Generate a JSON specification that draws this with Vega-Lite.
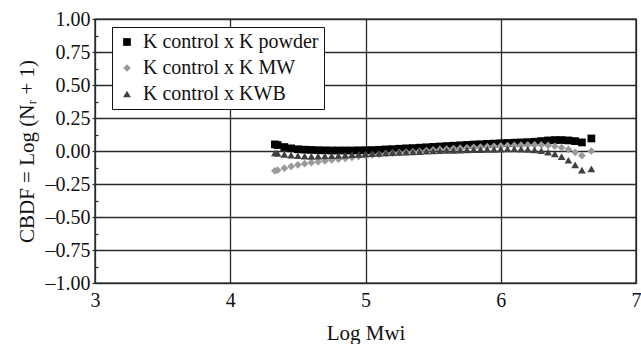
{
  "$schema": "https://vega.github.io/schema/vega-lite/v6.json",
  "width": 541,
  "height": 264,
  "autosize": {"type": "none"},
  "padding": {"left": 95, "top": 19, "right": 5, "bottom": 61},
  "background": "white",
  "config": {
    "font": "Liberation Serif",
    "view": {"stroke": "#111", "strokeWidth": 1.4},
    "legend": {"strokeColor": "#111", "fillColor": "#fff", "padding": 5, "labelLimit": 0},
    "axis": {"domain": false, "gridColor": "#2a2a2a", "gridWidth": 1.3, "gridOpacity": 1, "labelFont": "Liberation Serif", "titleFont": "Liberation Serif", "labelColor": "#111", "titleColor": "#111", "titleFontWeight": "normal", "labelFontSize": 20, "titleFontSize": 21, "tickColor": "#2a2a2a", "tickWidth": 1.2}
  },
  "data": {"values": [
    {"x": 4.33, "y": 0.050, "s": "K control x K powder"},
    {"x": 4.35, "y": 0.045, "s": "K control x K powder"},
    {"x": 4.40, "y": 0.030, "s": "K control x K powder"},
    {"x": 4.45, "y": 0.020, "s": "K control x K powder"},
    {"x": 4.50, "y": 0.013, "s": "K control x K powder"},
    {"x": 4.55, "y": 0.010, "s": "K control x K powder"},
    {"x": 4.60, "y": 0.008, "s": "K control x K powder"},
    {"x": 4.65, "y": 0.006, "s": "K control x K powder"},
    {"x": 4.70, "y": 0.005, "s": "K control x K powder"},
    {"x": 4.75, "y": 0.004, "s": "K control x K powder"},
    {"x": 4.80, "y": 0.004, "s": "K control x K powder"},
    {"x": 4.85, "y": 0.004, "s": "K control x K powder"},
    {"x": 4.90, "y": 0.004, "s": "K control x K powder"},
    {"x": 4.95, "y": 0.005, "s": "K control x K powder"},
    {"x": 5.00, "y": 0.006, "s": "K control x K powder"},
    {"x": 5.05, "y": 0.007, "s": "K control x K powder"},
    {"x": 5.10, "y": 0.009, "s": "K control x K powder"},
    {"x": 5.15, "y": 0.012, "s": "K control x K powder"},
    {"x": 5.20, "y": 0.014, "s": "K control x K powder"},
    {"x": 5.25, "y": 0.017, "s": "K control x K powder"},
    {"x": 5.30, "y": 0.020, "s": "K control x K powder"},
    {"x": 5.35, "y": 0.022, "s": "K control x K powder"},
    {"x": 5.40, "y": 0.025, "s": "K control x K powder"},
    {"x": 5.45, "y": 0.028, "s": "K control x K powder"},
    {"x": 5.50, "y": 0.031, "s": "K control x K powder"},
    {"x": 5.55, "y": 0.034, "s": "K control x K powder"},
    {"x": 5.60, "y": 0.037, "s": "K control x K powder"},
    {"x": 5.65, "y": 0.040, "s": "K control x K powder"},
    {"x": 5.70, "y": 0.043, "s": "K control x K powder"},
    {"x": 5.75, "y": 0.046, "s": "K control x K powder"},
    {"x": 5.80, "y": 0.049, "s": "K control x K powder"},
    {"x": 5.85, "y": 0.051, "s": "K control x K powder"},
    {"x": 5.90, "y": 0.054, "s": "K control x K powder"},
    {"x": 5.95, "y": 0.056, "s": "K control x K powder"},
    {"x": 6.00, "y": 0.059, "s": "K control x K powder"},
    {"x": 6.05, "y": 0.061, "s": "K control x K powder"},
    {"x": 6.10, "y": 0.063, "s": "K control x K powder"},
    {"x": 6.15, "y": 0.065, "s": "K control x K powder"},
    {"x": 6.20, "y": 0.067, "s": "K control x K powder"},
    {"x": 6.25, "y": 0.070, "s": "K control x K powder"},
    {"x": 6.30, "y": 0.075, "s": "K control x K powder"},
    {"x": 6.35, "y": 0.080, "s": "K control x K powder"},
    {"x": 6.40, "y": 0.083, "s": "K control x K powder"},
    {"x": 6.45, "y": 0.083, "s": "K control x K powder"},
    {"x": 6.50, "y": 0.080, "s": "K control x K powder"},
    {"x": 6.55, "y": 0.075, "s": "K control x K powder"},
    {"x": 6.60, "y": 0.065, "s": "K control x K powder"},
    {"x": 6.67, "y": 0.095, "s": "K control x K powder"},
    {"x": 4.33, "y": -0.150, "s": "K control x K MW"},
    {"x": 4.35, "y": -0.145, "s": "K control x K MW"},
    {"x": 4.40, "y": -0.130, "s": "K control x K MW"},
    {"x": 4.45, "y": -0.117, "s": "K control x K MW"},
    {"x": 4.50, "y": -0.105, "s": "K control x K MW"},
    {"x": 4.55, "y": -0.096, "s": "K control x K MW"},
    {"x": 4.60, "y": -0.088, "s": "K control x K MW"},
    {"x": 4.65, "y": -0.081, "s": "K control x K MW"},
    {"x": 4.70, "y": -0.075, "s": "K control x K MW"},
    {"x": 4.75, "y": -0.068, "s": "K control x K MW"},
    {"x": 4.80, "y": -0.062, "s": "K control x K MW"},
    {"x": 4.85, "y": -0.055, "s": "K control x K MW"},
    {"x": 4.90, "y": -0.048, "s": "K control x K MW"},
    {"x": 4.95, "y": -0.041, "s": "K control x K MW"},
    {"x": 5.00, "y": -0.035, "s": "K control x K MW"},
    {"x": 5.05, "y": -0.030, "s": "K control x K MW"},
    {"x": 5.10, "y": -0.025, "s": "K control x K MW"},
    {"x": 5.15, "y": -0.020, "s": "K control x K MW"},
    {"x": 5.20, "y": -0.016, "s": "K control x K MW"},
    {"x": 5.25, "y": -0.012, "s": "K control x K MW"},
    {"x": 5.30, "y": -0.008, "s": "K control x K MW"},
    {"x": 5.35, "y": -0.005, "s": "K control x K MW"},
    {"x": 5.40, "y": -0.002, "s": "K control x K MW"},
    {"x": 5.45, "y": 0.003, "s": "K control x K MW"},
    {"x": 5.50, "y": 0.008, "s": "K control x K MW"},
    {"x": 5.55, "y": 0.012, "s": "K control x K MW"},
    {"x": 5.60, "y": 0.015, "s": "K control x K MW"},
    {"x": 5.65, "y": 0.018, "s": "K control x K MW"},
    {"x": 5.70, "y": 0.021, "s": "K control x K MW"},
    {"x": 5.75, "y": 0.024, "s": "K control x K MW"},
    {"x": 5.80, "y": 0.027, "s": "K control x K MW"},
    {"x": 5.85, "y": 0.030, "s": "K control x K MW"},
    {"x": 5.90, "y": 0.033, "s": "K control x K MW"},
    {"x": 5.95, "y": 0.036, "s": "K control x K MW"},
    {"x": 6.00, "y": 0.038, "s": "K control x K MW"},
    {"x": 6.05, "y": 0.040, "s": "K control x K MW"},
    {"x": 6.10, "y": 0.042, "s": "K control x K MW"},
    {"x": 6.15, "y": 0.044, "s": "K control x K MW"},
    {"x": 6.20, "y": 0.046, "s": "K control x K MW"},
    {"x": 6.25, "y": 0.047, "s": "K control x K MW"},
    {"x": 6.30, "y": 0.046, "s": "K control x K MW"},
    {"x": 6.35, "y": 0.042, "s": "K control x K MW"},
    {"x": 6.40, "y": 0.036, "s": "K control x K MW"},
    {"x": 6.45, "y": 0.026, "s": "K control x K MW"},
    {"x": 6.50, "y": 0.012, "s": "K control x K MW"},
    {"x": 6.55, "y": -0.010, "s": "K control x K MW"},
    {"x": 6.60, "y": -0.035, "s": "K control x K MW"},
    {"x": 6.67, "y": 0.000, "s": "K control x K MW"},
    {"x": 4.33, "y": -0.015, "s": "K control x KWB"},
    {"x": 4.35, "y": -0.018, "s": "K control x KWB"},
    {"x": 4.40, "y": -0.025, "s": "K control x KWB"},
    {"x": 4.45, "y": -0.031, "s": "K control x KWB"},
    {"x": 4.50, "y": -0.036, "s": "K control x KWB"},
    {"x": 4.55, "y": -0.039, "s": "K control x KWB"},
    {"x": 4.60, "y": -0.040, "s": "K control x KWB"},
    {"x": 4.65, "y": -0.039, "s": "K control x KWB"},
    {"x": 4.70, "y": -0.038, "s": "K control x KWB"},
    {"x": 4.75, "y": -0.036, "s": "K control x KWB"},
    {"x": 4.80, "y": -0.034, "s": "K control x KWB"},
    {"x": 4.85, "y": -0.031, "s": "K control x KWB"},
    {"x": 4.90, "y": -0.028, "s": "K control x KWB"},
    {"x": 4.95, "y": -0.025, "s": "K control x KWB"},
    {"x": 5.00, "y": -0.023, "s": "K control x KWB"},
    {"x": 5.05, "y": -0.020, "s": "K control x KWB"},
    {"x": 5.10, "y": -0.018, "s": "K control x KWB"},
    {"x": 5.15, "y": -0.015, "s": "K control x KWB"},
    {"x": 5.20, "y": -0.013, "s": "K control x KWB"},
    {"x": 5.25, "y": -0.010, "s": "K control x KWB"},
    {"x": 5.30, "y": -0.008, "s": "K control x KWB"},
    {"x": 5.35, "y": -0.006, "s": "K control x KWB"},
    {"x": 5.40, "y": -0.004, "s": "K control x KWB"},
    {"x": 5.45, "y": -0.002, "s": "K control x KWB"},
    {"x": 5.50, "y": 0.000, "s": "K control x KWB"},
    {"x": 5.55, "y": 0.002, "s": "K control x KWB"},
    {"x": 5.60, "y": 0.004, "s": "K control x KWB"},
    {"x": 5.65, "y": 0.005, "s": "K control x KWB"},
    {"x": 5.70, "y": 0.007, "s": "K control x KWB"},
    {"x": 5.75, "y": 0.008, "s": "K control x KWB"},
    {"x": 5.80, "y": 0.010, "s": "K control x KWB"},
    {"x": 5.85, "y": 0.011, "s": "K control x KWB"},
    {"x": 5.90, "y": 0.012, "s": "K control x KWB"},
    {"x": 5.95, "y": 0.013, "s": "K control x KWB"},
    {"x": 6.00, "y": 0.014, "s": "K control x KWB"},
    {"x": 6.05, "y": 0.015, "s": "K control x KWB"},
    {"x": 6.10, "y": 0.015, "s": "K control x KWB"},
    {"x": 6.15, "y": 0.014, "s": "K control x KWB"},
    {"x": 6.20, "y": 0.012, "s": "K control x KWB"},
    {"x": 6.25, "y": 0.008, "s": "K control x KWB"},
    {"x": 6.30, "y": 0.002, "s": "K control x KWB"},
    {"x": 6.35, "y": -0.008, "s": "K control x KWB"},
    {"x": 6.40, "y": -0.022, "s": "K control x KWB"},
    {"x": 6.45, "y": -0.042, "s": "K control x KWB"},
    {"x": 6.50, "y": -0.070, "s": "K control x KWB"},
    {"x": 6.55, "y": -0.105, "s": "K control x KWB"},
    {"x": 6.60, "y": -0.145, "s": "K control x KWB"},
    {"x": 6.67, "y": -0.135, "s": "K control x KWB"}
  ]},
  "mark": {"type": "point", "filled": true, "opacity": 1, "size": 60},
  "encoding": {
    "x": {"field": "x", "type": "quantitative", "scale": {"domain": [3, 7], "nice": false, "zero": false},
      "axis": {"title": "Log Mwi", "values": [3, 4, 5, 6, 7], "format": "d", "tickSize": 0, "labelPadding": 7, "titlePadding": 12, "labelFlush": false}},
    "y": {"field": "y", "type": "quantitative", "scale": {"domain": [-1, 1], "nice": false, "zero": false},
      "axis": {"title": "CBDF = Log (Nᵣ + 1)", "values": [-1, -0.875, -0.75, -0.625, -0.5, -0.375, -0.25, -0.125, 0, 0.125, 0.25, 0.375, 0.5, 0.625, 0.75, 0.875, 1],
        "labelExpr": "abs(datum.value*4 - round(datum.value*4)) > 0.01 ? '' : replace(format(datum.value, '.2f'), '−', '–')",
        "gridOpacity": {"condition": {"test": "abs(datum.value*4 - round(datum.value*4)) > 0.01", "value": 0}, "value": 1},
        "tickSize": {"condition": {"test": "abs(datum.value*4 - round(datum.value*4)) > 0.01", "value": -3}, "value": 3},
        "labelPadding": 2, "titlePadding": 8}},
    "color": {"field": "s", "type": "nominal",
      "scale": {"domain": ["K control x K powder", "K control x K MW", "K control x KWB"], "range": ["#000000", "#9a9a9a", "#404040"]},
      "legend": {"title": null, "orient": "none", "legendX": 17, "legendY": 8, "labelFontSize": 20, "labelFont": "Liberation Serif", "labelColor": "#111", "symbolSize": 60, "rowPadding": 6, "labelOffset": 6, "symbolOpacity": 1}},
    "shape": {"field": "s", "type": "nominal",
      "scale": {"domain": ["K control x K powder", "K control x K MW", "K control x KWB"], "range": ["square", "diamond", "triangle-up"]}}
  }
}
